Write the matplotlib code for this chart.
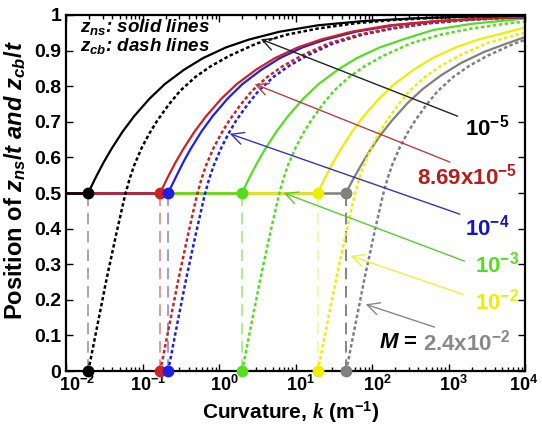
import numpy as np
import matplotlib
matplotlib.use("Agg")
import matplotlib.pyplot as plt
from matplotlib.transforms import ScaledTranslation

plt.rcParams['font.family'] = 'Liberation Sans'
plt.rcParams['font.weight'] = 'bold'
plt.rcParams['axes.labelweight'] = 'bold'
plt.rcParams['mathtext.fontset'] = 'custom'
plt.rcParams['mathtext.rm'] = 'Liberation Sans:bold'
plt.rcParams['mathtext.it'] = 'Liberation Sans:italic:bold'
plt.rcParams['mathtext.bf'] = 'Liberation Sans:bold'
plt.rcParams['mathtext.cal'] = 'Liberation Serif:italic'

# M values (labels) and critical curvature for each (log10 k)
m_labels = [r'$\mathrm{10^{-5}}$', r'$\mathrm{8.69x10^{-5}}$', r'$\mathrm{10^{-4}}$',
            r'$\mathrm{10^{-3}}$', r'$\mathrm{10^{-2}}$', r'$\mathrm{2.4x10^{-2}}$']
logk_crit = [-1.71, -0.77, -0.667, 0.30, 1.29, 1.66]

# z_ns / t  (solid lines): log10 k and z
ns_logk_1 = [-1.71, -1.66, -1.61, -1.51, -1.41, -1.26, -1.11, -0.91, -0.71, -0.46, -0.21, 0.09,
             0.39, 0.79, 1.29, 1.89, 2.59, 3.29, 4.0]
ns_z_1 = [0.5, 0.523, 0.545, 0.586, 0.623, 0.673, 0.716, 0.765, 0.806, 0.846, 0.879, 0.909,
          0.931, 0.953, 0.971, 0.983, 0.991, 0.9955, 0.998]
ns_logk_2 = [-0.77, -0.72, -0.67, -0.57, -0.47, -0.32, -0.17, 0.03, 0.23, 0.48, 0.73, 1.03,
             1.33, 1.73, 2.23, 2.83, 3.53, 4.0]
ns_z_2 = [0.5, 0.523, 0.545, 0.586, 0.623, 0.673, 0.716, 0.765, 0.806, 0.846, 0.879, 0.909,
          0.931, 0.953, 0.971, 0.983, 0.991, 0.994]
ns_logk_3 = [-0.667, -0.615, -0.565, -0.47, -0.375, -0.23, -0.085, 0.11, 0.305, 0.55, 0.795, 1.09,
             1.39, 1.785, 2.28, 2.88, 3.57, 4.0]
ns_z_3 = [0.5, 0.523, 0.545, 0.586, 0.623, 0.673, 0.716, 0.765, 0.806, 0.846, 0.879, 0.909,
          0.931, 0.953, 0.971, 0.983, 0.991, 0.993]
ns_logk_4 = [0.30, 0.35, 0.40, 0.50, 0.60, 0.75, 0.90, 1.10, 1.30, 1.55, 1.80, 2.10, 2.40, 2.80,
             3.30, 3.90, 4.0]
ns_z_4 = [0.5, 0.523, 0.545, 0.586, 0.623, 0.673, 0.716, 0.765, 0.806, 0.846, 0.879, 0.909,
          0.931, 0.958, 0.975, 0.988, 0.99]
ns_logk_5 = [1.29, 1.34, 1.39, 1.49, 1.59, 1.74, 1.89, 2.09, 2.29, 2.54, 2.79, 3.09, 3.39, 3.79, 4.0]
ns_z_5 = [0.5, 0.523, 0.545, 0.586, 0.623, 0.673, 0.716, 0.765, 0.806, 0.846, 0.879, 0.909,
          0.931, 0.953, 0.965]
ns_logk_6 = [1.66, 1.71, 1.76, 1.86, 1.96, 2.11, 2.26, 2.46, 2.66, 2.91, 3.16, 3.46, 3.76, 4.0]
ns_z_6 = [0.5, 0.522, 0.542, 0.58, 0.616, 0.663, 0.704, 0.752, 0.792, 0.832, 0.865, 0.896,
          0.92, 0.938]

# z_cb / t  (dash lines)
cb_logk_1 = [-1.71, -1.59, -1.47, -1.35, -1.23, -1.17, -1.11, -1.01, -0.91, -0.81, -0.66, -0.51,
             -0.31, -0.11, 0.14, 0.49, 0.89, 1.29, 1.79, 2.29, 2.89, 3.49, 4.0]
cb_z_1 = [0.0, 0.13, 0.26, 0.38, 0.494, 0.54, 0.578, 0.628, 0.668, 0.703, 0.748, 0.787,
          0.826, 0.856, 0.886, 0.92, 0.945, 0.962, 0.977, 0.986, 0.993, 0.997, 0.999]
cb_logk_2 = [-0.77, -0.65, -0.53, -0.41, -0.29, -0.23, -0.17, -0.07, 0.03, 0.13, 0.28, 0.43,
             0.63, 0.83, 1.08, 1.43, 1.83, 2.23, 2.73, 3.23, 3.83, 4.0]
cb_z_2 = [0.0, 0.13, 0.26, 0.38, 0.494, 0.54, 0.578, 0.628, 0.668, 0.703, 0.748, 0.787,
          0.826, 0.856, 0.886, 0.92, 0.945, 0.962, 0.977, 0.986, 0.993, 0.995]
cb_logk_3 = [-0.667, -0.55, -0.43, -0.31, -0.19, -0.13, -0.07, 0.03, 0.125, 0.22, 0.37, 0.515,
             0.71, 0.905, 1.15, 1.49, 1.88, 2.27, 2.76, 3.25, 3.85, 4.0]
cb_z_3 = [0.0, 0.13, 0.26, 0.38, 0.494, 0.54, 0.578, 0.628, 0.668, 0.703, 0.748, 0.787,
          0.826, 0.856, 0.886, 0.92, 0.945, 0.962, 0.977, 0.986, 0.993, 0.995]
cb_logk_4 = [0.30, 0.42, 0.54, 0.66, 0.78, 0.84, 0.90, 1.00, 1.10, 1.20, 1.35, 1.50, 1.70, 1.90,
             2.15, 2.50, 2.90, 3.30, 3.80, 4.0]
cb_z_4 = [0.0, 0.13, 0.26, 0.38, 0.494, 0.54, 0.578, 0.628, 0.668, 0.703, 0.748, 0.787,
          0.826, 0.856, 0.886, 0.92, 0.945, 0.962, 0.977, 0.981]
cb_logk_5 = [1.29, 1.41, 1.53, 1.65, 1.77, 1.83, 1.89, 1.99, 2.09, 2.19, 2.34, 2.49, 2.69, 2.89,
             3.14, 3.49, 3.89, 4.0]
cb_z_5 = [0.0, 0.13, 0.26, 0.38, 0.494, 0.54, 0.578, 0.628, 0.668, 0.703, 0.748, 0.787,
          0.826, 0.856, 0.886, 0.92, 0.945, 0.95]
cb_logk_6 = [1.66, 1.78, 1.90, 2.02, 2.14, 2.20, 2.26, 2.36, 2.46, 2.56, 2.71, 2.86, 3.06, 3.26,
             3.51, 3.86, 4.0]
cb_z_6 = [0.0, 0.13, 0.26, 0.38, 0.494, 0.54, 0.578, 0.628, 0.668, 0.703, 0.748, 0.787,
          0.826, 0.856, 0.886, 0.92, 0.93]

ns_curves = [(ns_logk_1, ns_z_1), (ns_logk_2, ns_z_2), (ns_logk_3, ns_z_3),
             (ns_logk_4, ns_z_4), (ns_logk_5, ns_z_5), (ns_logk_6, ns_z_6)]
cb_curves = [(cb_logk_1, cb_z_1), (cb_logk_2, cb_z_2), (cb_logk_3, cb_z_3),
             (cb_logk_4, cb_z_4), (cb_logk_5, cb_z_5), (cb_logk_6, cb_z_6)]

colors = ['black', '#cc2222', '#1f1fe6', '#55dd22', '#eeee00', '#808080']
vcolors = ['#999999', '#e08888', '#8888ee', '#99ee77', '#f4f4a0', '#707070']
arrow_colors = ['#222222', '#b84040', '#3434c0', '#55cc33', '#eeee44', '#888888']
text_colors = ['black', '#b81c1c', '#1414c8', '#55dd22', '#eeee00', '#888888']

# annotation positions: arrow tip (log k, z), line start (log k, z), text centre (log k, z)
tips = [(0.51, 0.935), (0.43, 0.809), (0.105, 0.669), (0.81, 0.503), (1.686, 0.326), (1.88, 0.19)]
starts = [(3.15, 0.713), (3.05, 0.584), (3.18, 0.438), (3.24, 0.306), (3.22, 0.213), (2.85, 0.121)]
text_pos = [(3.50, 0.683), (3.24, 0.545), (3.50, 0.404), (3.63, 0.298), (3.63, 0.194), (2.67, 0.079)]

fig = plt.figure(figsize=(5.42, 4.28), dpi=100)
ax = fig.add_axes([0.122, 0.133, 0.847, 0.832])
kmin, kmax = 1e-2, 1e4

# curves: gray first so black ends on top
for i in reversed(range(6)):
    kc = 10 ** logk_crit[i]
    ns_lk, ns_z = ns_curves[i]
    cb_lk, cb_z = cb_curves[i]
    ax.plot([kmin, kc], [0.5, 0.5], color=colors[i], lw=1.8, solid_capstyle='butt')
    ax.plot([kmin, kc], [0.0, 0.0], color=colors[i], lw=1.8, solid_capstyle='butt')
    ax.plot([kc, kc], [0.0, 0.5], color=vcolors[i], lw=1.2, dashes=(7, 4))
    ax.plot(10 ** np.array(ns_lk), ns_z, color=colors[i], lw=1.6)
    ax.plot(10 ** np.array(cb_lk), cb_z, color=colors[i], lw=1.8, dashes=(1.4, 1.0))

for i in range(6):
    kc = 10 ** logk_crit[i]
    ax.plot([kc, kc], [0.5, 0.0], 'o', color=colors[i], ms=7.5, clip_on=False, zorder=5)

# arrows and labels
for i in range(6):
    ax.annotate('', xy=(10 ** tips[i][0], tips[i][1]), xytext=(10 ** starts[i][0], starts[i][1]),
                arrowprops=dict(arrowstyle='->', color=arrow_colors[i], lw=1.0, mutation_scale=22))
for i in range(5):
    ax.text(10 ** text_pos[i][0], text_pos[i][1], m_labels[i], color=text_colors[i],
            fontsize=16, ha='center', va='center')
ax.text(10 ** 2.60, text_pos[5][1], r'$\mathit{M}$ =', color='black', fontsize=16,
        ha='right', va='center')
ax.text(10 ** text_pos[5][0], text_pos[5][1], m_labels[5], color=text_colors[5],
        fontsize=16, ha='left', va='center')

ax.text(0.03, 0.966, r'$z_{ns}$: solid lines', transform=ax.transAxes, fontsize=13.5,
        style='italic', va='center')
ax.text(0.03, 0.914, r'$z_{cb}$: dash lines', transform=ax.transAxes, fontsize=13.5,
        style='italic', va='center')

ax.set_xscale('log')
ax.set_xlim(kmin, kmax)
ax.set_ylim(0, 1)
ax.set_xticks([1e-2, 1e-1, 1e0, 1e1, 1e2, 1e3, 1e4])
ax.set_xticklabels([r'$\mathrm{10^{%d}}$' % e for e in range(-2, 5)], fontsize=13)
ax.set_yticks(np.arange(0, 1.01, 0.1))
ax.set_yticklabels(['0'] + ['%.1f' % v for v in np.arange(0.1, 0.95, 0.1)] + ['1'], fontsize=14)
ax.tick_params(which='both', direction='in', top=True, right=True)
ax.tick_params(which='major', length=5, width=1)
ax.tick_params(which='minor', length=3, width=1)
ax.tick_params(axis='x', pad=3)
# MATLAB-like placement: the "10" sits on the tick, exponent hangs to the right
shifts_px = [11, 5, 5, 5, 5, 5, -2]
for lbl, sp in zip(ax.get_xticklabels(), shifts_px):
    lbl.set_transform(lbl.get_transform() + ScaledTranslation(sp / 100, 0, fig.dpi_scale_trans))
for s in ax.spines.values():
    s.set_linewidth(1.6)

ax.set_xlabel(r'Curvature, $\mathcal{k}$ (m$^{-1}$)', fontsize=15)
ax.xaxis.set_label_coords(0.49, -0.079)
ax.set_ylabel(r'Position of $z_{ns}/t\ and\ z_{cb}/t$', fontsize=17)
ax.yaxis.set_label_coords(-0.084, 0.536)

fig.savefig('out.png', dpi=100)
